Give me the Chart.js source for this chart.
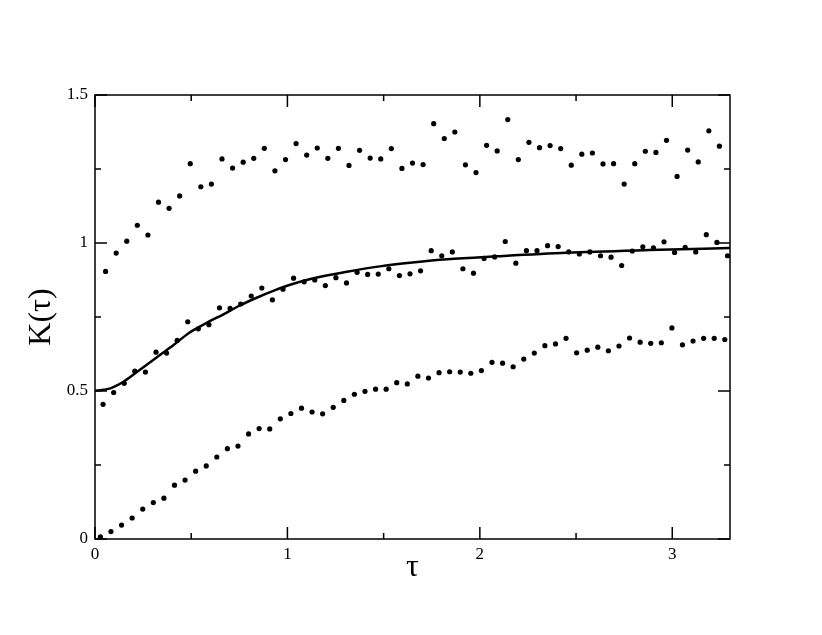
<!DOCTYPE html>
<html><head><meta charset="utf-8">
<script src="https://cdn.jsdelivr.net/npm/chart.js@4"></script>
<style>html,body{margin:0;padding:0;background:#fff}canvas{display:block}</style>
</head><body>
<canvas id="c" width="822" height="635"></canvas>
<script>
// upper series
const tauUpper = [0.055,0.110,0.165,0.220,0.275,0.330,0.385,0.440,0.495,0.550,
0.605,0.660,0.715,0.770,0.825,0.880,0.935,0.990,1.045,1.100,
1.155,1.210,1.265,1.320,1.375,1.430,1.485,1.540,1.595,1.650,
1.705,1.760,1.815,1.870,1.925,1.980,2.035,2.090,2.145,2.200,
2.255,2.310,2.365,2.420,2.475,2.530,2.585,2.640,2.695,2.750,
2.805,2.860,2.915,2.970,3.025,3.080,3.135,3.190,3.245];
const kUpper = [0.904,0.966,1.006,1.060,1.027,1.138,1.117,1.159,1.268,1.190,
1.199,1.284,1.253,1.273,1.286,1.320,1.244,1.282,1.336,1.297,
1.321,1.286,1.320,1.262,1.313,1.287,1.284,1.319,1.252,1.270,
1.265,1.403,1.353,1.375,1.264,1.238,1.330,1.311,1.417,1.282,
1.340,1.322,1.329,1.319,1.263,1.300,1.304,1.267,1.268,1.199,
1.268,1.310,1.306,1.347,1.225,1.314,1.274,1.379,1.327];
// middle series
const tauMiddle = [0.042,0.097,0.152,0.207,0.262,0.317,0.372,0.427,0.482,0.537,
0.592,0.647,0.702,0.757,0.812,0.867,0.922,0.977,1.032,1.087,
1.142,1.197,1.252,1.307,1.362,1.417,1.472,1.527,1.582,1.637,
1.692,1.747,1.802,1.857,1.912,1.967,2.022,2.077,2.132,2.187,
2.242,2.297,2.352,2.407,2.462,2.517,2.572,2.627,2.682,2.737,
2.792,2.847,2.902,2.957,3.012,3.067,3.122,3.177,3.232,3.287];
const kMiddle = [0.455,0.495,0.526,0.567,0.564,0.631,0.628,0.671,0.734,0.710,
0.724,0.781,0.779,0.794,0.821,0.848,0.808,0.844,0.881,0.869,
0.875,0.856,0.883,0.865,0.901,0.894,0.895,0.913,0.890,0.896,
0.906,0.974,0.957,0.970,0.913,0.898,0.948,0.953,1.005,0.932,
0.974,0.974,0.991,0.988,0.970,0.963,0.970,0.957,0.952,0.924,
0.973,0.987,0.984,1.004,0.968,0.985,0.970,1.028,1.002,0.957];
// lower series
const tauLower = [0.028,0.083,0.138,0.193,0.248,0.303,0.358,0.413,0.468,0.523,
0.578,0.633,0.688,0.743,0.798,0.853,0.908,0.963,1.018,1.073,
1.128,1.183,1.238,1.293,1.348,1.403,1.458,1.513,1.568,1.623,
1.678,1.733,1.788,1.843,1.898,1.953,2.008,2.063,2.118,2.173,
2.228,2.283,2.338,2.393,2.448,2.503,2.558,2.613,2.668,2.723,
2.778,2.833,2.888,2.943,2.998,3.053,3.108,3.163,3.218,3.273];
const kLower = [0.007,0.025,0.047,0.071,0.101,0.123,0.138,0.182,0.199,0.229,
0.247,0.277,0.305,0.314,0.355,0.373,0.372,0.406,0.424,0.442,
0.429,0.423,0.445,0.468,0.489,0.499,0.506,0.506,0.528,0.524,
0.550,0.544,0.562,0.565,0.564,0.560,0.569,0.597,0.594,0.582,
0.608,0.628,0.653,0.659,0.678,0.629,0.638,0.648,0.636,0.652,
0.679,0.665,0.661,0.663,0.713,0.656,0.669,0.678,0.678,0.674];
// fitted curve
const tauCurve = [0,0.08,0.15,0.23,0.32,0.41,0.49,0.58,0.67,0.75,0.84,0.93,1.01,1.13,1.31,1.48,1.65,1.83,2.09,2.45,2.88,3.3];
const kCurve = [0.500,0.509,0.532,0.570,0.613,0.656,0.697,0.730,0.760,0.788,0.815,0.839,0.858,0.880,0.903,0.921,0.934,0.945,0.955,0.967,0.976,0.983];
// tick labels
const xTickValues = [0,1,2,3];
const xTickLabels = ['0','1','2','3'];
const yTickValues = [0,0.5,1,1.5];
const yTickLabels = ['0','0.5','1','1.5'];

const pts = (xs, ys) => xs.map((x, i) => ({x: x, y: ys[i]}));
const serif = "'Liberation Serif', 'DejaVu Serif', serif";

const framePlugin = {
  id: 'frame',
  afterDatasetsDraw(chart) {
    const {ctx, chartArea: a, scales: {x, y}} = chart;
    ctx.save();
    ctx.strokeStyle = '#000';
    ctx.lineWidth = 1.5;
    ctx.strokeRect(a.left, a.top, a.right - a.left, a.bottom - a.top);
    ctx.beginPath();
    x.ticks.forEach(t => {
      const px = x.getPixelForValue(t.value);
      const len = Number.isInteger(t.value) ? 12 : 6;
      ctx.moveTo(px, a.bottom); ctx.lineTo(px, a.bottom - len);
      ctx.moveTo(px, a.top); ctx.lineTo(px, a.top + len);
    });
    y.ticks.forEach(t => {
      const py = y.getPixelForValue(t.value);
      const len = Math.abs(t.value * 2 - Math.round(t.value * 2)) < 1e-6 ? 12 : 6;
      ctx.moveTo(a.left, py); ctx.lineTo(a.left + len, py);
      ctx.moveTo(a.right, py); ctx.lineTo(a.right - len, py);
    });
    ctx.stroke();
    ctx.restore();
  }
};

const dotStyle = {
  showLine: false, pointRadius: 2.6, pointHoverRadius: 2.6,
  pointBackgroundColor: '#000', pointBorderWidth: 0, borderColor: '#000', clip: false
};

new Chart(document.getElementById('c'), {
  type: 'scatter',
  data: {
    datasets: [
      Object.assign({label: 'upper', data: pts(tauUpper, kUpper)}, dotStyle),
      Object.assign({label: 'middle', data: pts(tauMiddle, kMiddle)}, dotStyle),
      Object.assign({label: 'lower', data: pts(tauLower, kLower)}, dotStyle),
      {label: 'fit', data: pts(tauCurve, kCurve), showLine: true, pointRadius: 0,
       borderColor: '#000', borderWidth: 2.5, cubicInterpolationMode: 'monotone', fill: false}
    ]
  },
  options: {
    responsive: false,
    animation: false,
    events: [],
    layout: {padding: {top: 95, right: 92, left: 0, bottom: 0}},
    plugins: {legend: {display: false}, tooltip: {enabled: false}},
    scales: {
      x: {
        type: 'linear', min: 0, max: 3.3,
        grid: {display: false, drawTicks: false, tickLength: 0}, border: {display: false},
        afterFit: s => { s.height = 96; },
        ticks: {
          stepSize: 0.5, includeBounds: false, autoSkip: false, maxRotation: 0,
          padding: 5, color: '#000', font: {family: serif, size: 17},
          callback: v => { const i = xTickValues.findIndex(t => Math.abs(t - v) < 1e-6); return i >= 0 ? xTickLabels[i] : ''; }
        },
        title: {display: true, text: 'τ', color: '#000', font: {family: serif, size: 32},
                padding: {top: 0, bottom: 48}}
      },
      y: {
        type: 'linear', min: 0, max: 1.5,
        grid: {display: false, drawTicks: false, tickLength: 0}, border: {display: false},
        afterFit: s => { s.width = 95; },
        ticks: {
          stepSize: 0.25, includeBounds: false, autoSkip: false,
          padding: 7, color: '#000', font: {family: serif, size: 17},
          callback: v => { const i = yTickValues.findIndex(t => Math.abs(t - v) < 1e-6); return i >= 0 ? yTickLabels[i] : ''; }
        },
        title: {display: true, text: 'K(τ)', color: '#000', font: {family: serif, size: 32},
                padding: {top: 22, bottom: 0}}
      }
    }
  },
  plugins: [framePlugin]
});
</script>
</body></html>
